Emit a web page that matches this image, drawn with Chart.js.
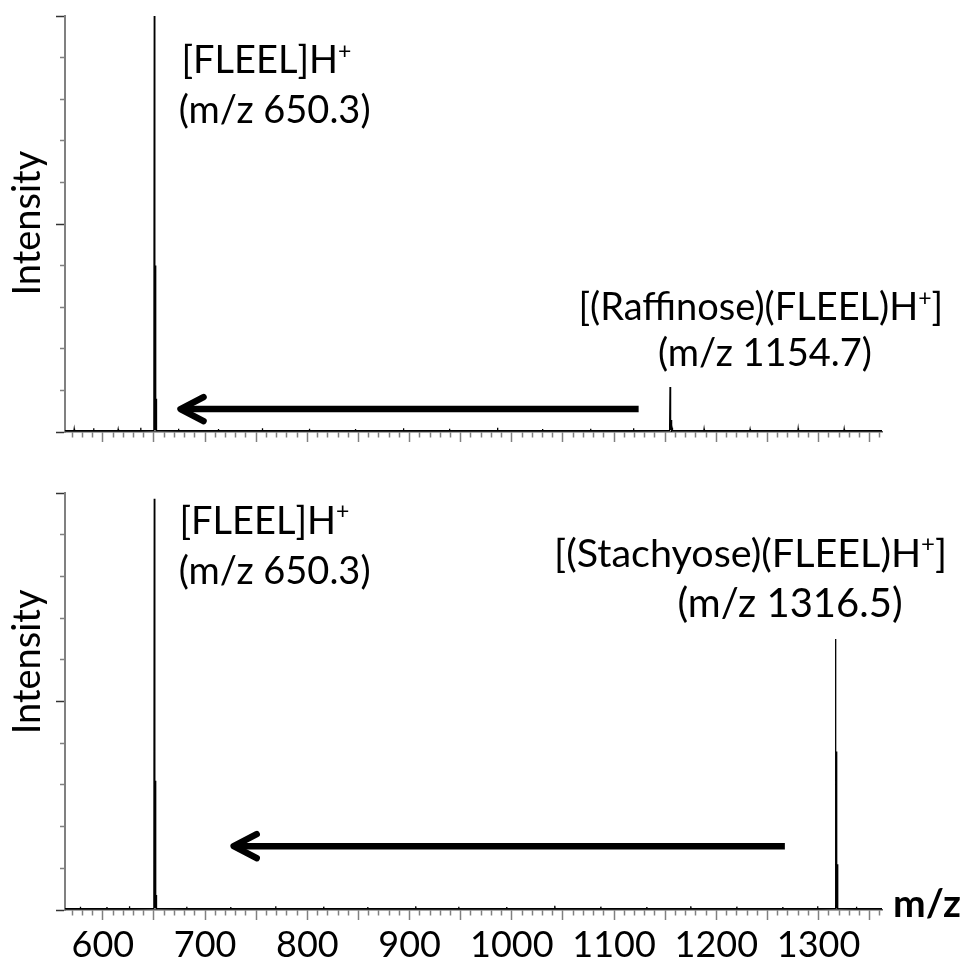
<!DOCTYPE html>
<html>
<head>
<meta charset="utf-8">
<script src="https://cdn.jsdelivr.net/npm/chart.js@4/dist/chart.umd.min.js"></script>
<style>
  html, body { margin: 0; padding: 0; background: #fff; }
  #wrap { position: relative; width: 963px; height: 961px; }
  canvas { position: absolute; left: 0; }
  #top { top: 0; }
  #bottom { top: 470px; }
</style>
</head>
<body>
<div id="wrap">
  <canvas id="top" width="963" height="470"></canvas>
  <canvas id="bottom" width="963" height="491"></canvas>
</div>
<script>
// m/z range shown on both panels, and the labelled ticks
let mzMin = 563;
let mzMax = 1362;
let mzTickLabels = [600, 700, 800, 900, 1000, 1100, 1200, 1300];

// top panel: raffinose + FLEEL spectrum (relative intensity, %)
let raffinoseMz = [
  563,
  571.7, 572, 572.3,
  590.7, 591, 591.3,
  614.7, 615, 615.3,
  636.7, 637, 637.3,
  649.9, 650.3, 650.7, 651.0, 651.3, 651.7, 652.0, 652.3, 652.7,
  673.7, 674, 674.3,
  712.7, 713, 713.3,
  755.7, 756, 756.3,
  801.7, 802, 802.3,
  846.7, 847, 847.3,
  893.7, 894, 894.3,
  938.7, 939, 939.3,
  985.7, 986, 986.3,
  1029.7, 1030, 1030.3,
  1076.7, 1077, 1077.3,
  1118.7, 1119, 1119.3,
  1154.3, 1154.7, 1155.1, 1155.4, 1155.7, 1156.1, 1156.4, 1156.7, 1157.1,
  1187.7, 1188, 1188.3,
  1232.7, 1233, 1233.3,
  1279.7, 1280, 1280.3,
  1324.7, 1325, 1325.3,
  1362
];
let raffinoseIntensity = [
  0.3,
  0.3, 0.8, 0.3,
  0.3, 0.9, 0.3,
  0.3, 0.7, 0.3,
  0.3, 1.0, 0.3,
  0.4, 100, 0.5, 0.5, 40, 0.5, 0.5, 8, 0.4,
  0.3, 0.8, 0.3,
  0.3, 0.7, 0.3,
  0.3, 0.9, 0.3,
  0.3, 0.8, 0.3,
  0.3, 0.7, 0.3,
  0.3, 0.9, 0.3,
  0.3, 0.8, 0.3,
  0.3, 1.0, 0.3,
  0.3, 0.7, 0.3,
  0.3, 0.8, 0.3,
  0.3, 0.9, 0.3,
  0.4, 10.8, 0.5, 0.5, 2.9, 0.5, 0.5, 1.0, 0.4,
  0.3, 0.8, 0.3,
  0.3, 0.7, 0.3,
  0.3, 0.9, 0.3,
  0.3, 0.8, 0.3,
  0.3
];

// bottom panel: stachyose + FLEEL spectrum
let stachyoseMz = [
  563,
  577.7, 578, 578.3,
  603.7, 604, 604.3,
  625.7, 626, 626.3,
  649.9, 650.3, 650.7, 651.0, 651.3, 651.7, 652.0, 652.3, 652.7,
  681.7, 682, 682.3,
  724.7, 725, 725.3,
  768.7, 769, 769.3,
  815.7, 816, 816.3,
  858.7, 859, 859.3,
  905.7, 906, 906.3,
  947.7, 948, 948.3,
  994.7, 995, 995.3,
  1041.7, 1042, 1042.3,
  1086.7, 1087, 1087.3,
  1131.7, 1132, 1132.3,
  1174.7, 1175, 1175.3,
  1219.7, 1220, 1220.3,
  1264.7, 1265, 1265.3,
  1298.7, 1299, 1299.3,
  1316.1, 1316.5, 1316.9, 1317.2, 1317.5, 1317.9, 1318.2, 1318.5, 1318.9,
  1336.7, 1337, 1337.3,
  1362
];
let stachyoseIntensity = [
  0.3,
  0.3, 0.8, 0.3,
  0.3, 0.7, 0.3,
  0.3, 0.9, 0.3,
  0.4, 98.6, 0.5, 0.5, 31, 0.5, 0.5, 3.6, 0.4,
  0.3, 0.8, 0.3,
  0.3, 0.7, 0.3,
  0.3, 0.9, 0.3,
  0.3, 0.8, 0.3,
  0.3, 0.7, 0.3,
  0.3, 0.9, 0.3,
  0.3, 0.8, 0.3,
  0.3, 0.7, 0.3,
  0.3, 1.0, 0.3,
  0.3, 0.8, 0.3,
  0.3, 0.7, 0.3,
  0.3, 0.9, 0.3,
  0.3, 0.8, 0.3,
  0.3, 0.7, 0.3,
  0.3, 0.9, 0.3,
  0.4, 65, 0.5, 0.5, 38, 0.5, 0.5, 11, 0.4,
  0.3, 0.8, 0.3,
  0.3
];

// peak annotations ({+} = superscript)
let raffinoseLabels = ['[FLEEL]H{+}', '(m/z 650.3)', '[(Raffinose)(FLEEL)H{+}]', '(m/z 1154.7)'];
let stachyoseLabels = ['[FLEEL]H{+}', '(m/z 650.3)', '[(Stachyose)(FLEEL)H{+}]', '(m/z 1316.5)'];

// where the annotations sit, in m/z and intensity units, and their font size
let raffinoseLabelMz = [760, 768, 1243.5, 1247.5];
let raffinoseLabelAt = [86.3, 74.3, 26.9, 15.9];
let raffinoseLabelSize = [38, 38, 38, 38];
let stachyoseLabelMz = [758, 768, 1233.5, 1272];
let stachyoseLabelAt = [90.2, 78.2, 82.3, 70.3];
let stachyoseLabelSize = [38, 38, 39.5, 40];

// arrows: from m/z, to m/z, at intensity
let raffinoseArrow = [1124, 675, 5.5];
let stachyoseArrow = [1267, 727, 15.3];

let font = 'Lato, "Open Sans", sans-serif';

// draw a line of text centered on cx, with {..} parts as superscript
function drawRich(ctx, text, cx, baseY, size) {
  let parts = text.split(/(\{[^}]*\})/).filter(p => p.length);
  let segs = parts.map(p => {
    let sup = p[0] === '{';
    let t = sup ? p.slice(1, -1) : p;
    ctx.font = (sup ? Math.round(size * 0.6) : size) + 'px ' + font;
    return { t: t, sup: sup, w: ctx.measureText(t).width };
  });
  let total = segs.reduce((a, s) => a + s.w, 0);
  let xx = cx - total / 2;
  ctx.textAlign = 'left';
  ctx.textBaseline = 'alphabetic';
  segs.forEach(s => {
    ctx.font = (s.sup ? Math.round(size * 0.6) : size) + 'px ' + font;
    ctx.fillText(s.t, xx, s.sup ? baseY - size * 0.38 : baseY);
    xx += s.w;
  });
}

function annotations(labels, labelMz, labelAt, labelSize, arrow, titleAt, showMzTitle) {
  return {
    id: 'annotations',
    afterDraw(chart) {
      let ctx = chart.ctx;
      let x = chart.scales.x;
      let y = chart.scales.y;
      ctx.save();
      ctx.fillStyle = '#000';

      labels.forEach((t, i) => {
        drawRich(ctx, t, x.getPixelForValue(labelMz[i]), y.getPixelForValue(labelAt[i]), labelSize[i]);
      });

      // arrow pointing back to the free peptide
      let x0 = x.getPixelForValue(arrow[0]);
      let x1 = x.getPixelForValue(arrow[1]);
      let ay = y.getPixelForValue(arrow[2]);
      ctx.strokeStyle = '#000';
      ctx.lineWidth = 6.5;
      ctx.lineCap = 'butt';
      ctx.beginPath();
      ctx.moveTo(x0, ay);
      ctx.lineTo(x1 + 3, ay);
      ctx.stroke();
      ctx.lineCap = 'round';
      ctx.lineJoin = 'round';
      ctx.beginPath();
      ctx.moveTo(x1 + 24, ay - 12);
      ctx.lineTo(x1 + 1, ay);
      ctx.lineTo(x1 + 24, ay + 12);
      ctx.stroke();

      // y title
      ctx.save();
      ctx.translate(40, y.getPixelForValue(titleAt));
      ctx.rotate(-Math.PI / 2);
      ctx.font = '38px ' + font;
      ctx.textAlign = 'center';
      ctx.textBaseline = 'alphabetic';
      ctx.fillText('Intensity', 0, 0);
      ctx.restore();

      if (showMzTitle) {
        ctx.font = 'bold 39px ' + font;
        ctx.textAlign = 'left';
        ctx.fillText('m/z', chart.chartArea.right + 11, chart.chartArea.bottom + 7);
      }
      ctx.restore();
    }
  };
}

function makePanel(id, mz, intensity, labels, labelMz, labelAt, labelSize, arrow, titleAt, showTicks, padTop, axisH) {
  let isMajor = c => c.tick && c.tick.value % 50 === 0;
  return new Chart(document.getElementById(id), {
    type: 'line',
    data: {
      datasets: [{
        data: mz.map((m, i) => ({ x: m, y: intensity[i] })),
        borderColor: '#000',
        borderWidth: 1.3,
        pointRadius: 0,
        tension: 0,
        fill: false
      }]
    },
    options: {
      animation: false,
      responsive: false,
      events: [],
      layout: { padding: { left: 0, top: padTop, right: 81, bottom: 0 } },
      plugins: { legend: { display: false }, tooltip: { enabled: false } },
      scales: {
        x: {
          type: 'linear',
          min: mzMin,
          max: mzMax,
          afterBuildTicks: s => {
            let t = [];
            for (let v = 570; v <= 1360; v += 10) t.push({ value: v });
            s.ticks = t;
          },
          afterFit: s => { s.height = axisH; },
          ticks: {
            display: showTicks,
            autoSkip: false,
            maxRotation: 0,
            padding: 4,
            color: '#000',
            font: { family: font, size: 36 },
            callback: v => mzTickLabels.includes(v) ? String(v) : ''
          },
          grid: {
            drawOnChartArea: false,
            tickLength: 10,
            tickWidth: 1.5,
            tickColor: '#808080',
            tickBorderDash: c => isMajor(c) ? [] : [5, 100]
          },
          border: { color: '#555', width: 1.5 }
        },
        y: {
          min: 0,
          max: 100,
          afterFit: s => { s.width = 65; },
          ticks: { display: false, stepSize: 10 },
          grid: {
            drawOnChartArea: false,
            tickLength: 9,
            tickWidth: 1.5,
            tickColor: c => isMajor(c) ? '#333' : '#808080',
            tickBorderDash: c => isMajor(c) ? [] : [0, 4, 5, 100]
          },
          border: { color: '#808080', width: 2 }
        }
      }
    },
    plugins: [annotations(labels, labelMz, labelAt, labelSize, arrow, titleAt, showTicks)]
  });
}

makePanel('top', raffinoseMz, raffinoseIntensity, raffinoseLabels, raffinoseLabelMz, raffinoseLabelAt,
  raffinoseLabelSize, raffinoseArrow, 50.2, false, 16, 38);
makePanel('bottom', stachyoseMz, stachyoseIntensity, stachyoseLabels, stachyoseLabelMz, stachyoseLabelAt,
  stachyoseLabelSize, stachyoseArrow, 59.5, true, 23, 51);
</script>
</body>
</html>
